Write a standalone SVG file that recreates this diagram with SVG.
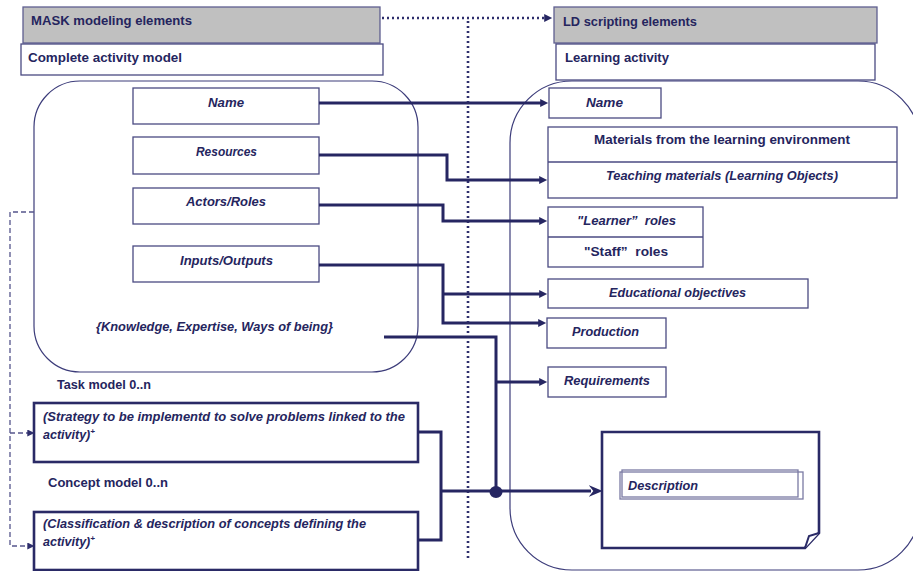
<svg xmlns="http://www.w3.org/2000/svg" width="913" height="571" viewBox="0 0 913 571">
  <style>
    text { font-family: "Liberation Sans", Arial, sans-serif; font-weight: bold; font-size: 12.5px; fill: #25255e; }
    .it { font-style: italic; }
    .mid { text-anchor: middle; }
    .pre { white-space: pre; }
    .head { fill: #c0c0c0; stroke: #5f5f90; stroke-width: 1.3; }
    .box { fill: #ffffff; stroke: #4a4a82; stroke-width: 1.3; }
    .thick { fill: #ffffff; stroke: #2a2a66; stroke-width: 2.6; }
    .container { fill: none; stroke: #3c3c7a; stroke-width: 1.2; }
    .wire { fill: none; stroke: #262662; stroke-width: 3; }
    .dash { fill: none; stroke: #55558c; stroke-width: 1.3; stroke-dasharray: 5 3; }
    .dot { fill: none; stroke: #2e2e6c; stroke-width: 2.6; stroke-dasharray: 2 3; }
  </style>
  <defs>
    <marker id="tri" viewBox="0 0 10 10" refX="1" refY="5" markerWidth="9" markerHeight="8" markerUnits="userSpaceOnUse" orient="auto">
      <path d="M0,0 L10,5 L0,10 z" fill="#262662"/>
    </marker>
    <marker id="barb" viewBox="0 0 12 10" refX="2" refY="5" markerWidth="14" markerHeight="12" markerUnits="userSpaceOnUse" orient="auto">
      <path d="M0,0 L12,5 L0,10 L4,5 z" fill="#262662"/>
    </marker>
    <marker id="small" viewBox="0 0 10 10" refX="1" refY="5" markerWidth="7" markerHeight="7" markerUnits="userSpaceOnUse" orient="auto">
      <path d="M0,0 L10,5 L0,10 z" fill="#2e2e6c"/>
    </marker>
  </defs>

  <!-- large rounded frames -->
  <rect id="activity-frame" class="container" x="34" y="81" width="384" height="291" rx="46" ry="46"/>
  <rect id="learning-frame" class="container" x="510" y="81" width="410" height="489" rx="62" ry="62"/>

  <!-- column headers -->
  <g id="mask-header">
    <rect class="head" x="23" y="7" width="357" height="36"/>
    <text x="31" y="25" textLength="161" lengthAdjust="spacingAndGlyphs">MASK modeling elements</text>
  </g>
  <g id="complete-model">
    <rect class="box" x="21" y="44" width="362" height="31"/>
    <text x="28" y="62" textLength="154" lengthAdjust="spacingAndGlyphs">Complete activity model</text>
  </g>
  <g id="ld-header">
    <rect class="head" x="554" y="7" width="323" height="36"/>
    <text x="563" y="26" textLength="134" lengthAdjust="spacingAndGlyphs">LD scripting elements</text>
  </g>
  <g id="learning-activity">
    <rect class="box" x="556" y="44" width="319" height="36"/>
    <text x="565" y="62" textLength="104" lengthAdjust="spacingAndGlyphs">Learning activity</text>
  </g>

  <!-- separators between the two columns -->
  <g id="separators">
    <path class="dot" d="M382,18 H545" marker-end="url(#tri)"/>
    <path class="dot" d="M468,21 V560"/>
  </g>

  <!-- activity model elements -->
  <g id="name-left">
    <rect class="box" x="133" y="88" width="186" height="36"/>
    <text class="it mid" x="226" y="107" textLength="36" lengthAdjust="spacingAndGlyphs">Name</text>
  </g>
  <g id="resources">
    <rect class="box" x="133" y="137" width="186" height="37"/>
    <text class="it mid" x="226.5" y="156" textLength="61" lengthAdjust="spacingAndGlyphs">Resources</text>
  </g>
  <g id="actors-roles">
    <rect class="box" x="133" y="188" width="186" height="36"/>
    <text class="it mid" x="226" y="206" textLength="80" lengthAdjust="spacingAndGlyphs">Actors/Roles</text>
  </g>
  <g id="inputs-outputs">
    <rect class="box" x="133" y="246" width="186" height="36"/>
    <text class="it mid" x="226.5" y="265" textLength="93" lengthAdjust="spacingAndGlyphs">Inputs/Outputs</text>
  </g>
  <g id="knowledge">
    <text class="it mid" x="214.5" y="331" textLength="237" lengthAdjust="spacingAndGlyphs">{Knowledge, Expertise, Ways of being}</text>
  </g>

  <!-- task and concept models -->
  <g id="task-model">
    <text x="57" y="389" textLength="94" lengthAdjust="spacingAndGlyphs">Task model 0..n</text>
    <rect class="thick" x="34" y="403" width="384" height="59"/>
    <text class="it" x="43" y="421" textLength="362" lengthAdjust="spacingAndGlyphs">(Strategy to be implementd to solve problems linked to the</text>
    <text class="it" x="43" y="439">activity)<tspan font-size="8" dy="-5">+</tspan></text>
  </g>
  <g id="concept-model">
    <text x="48" y="487" textLength="120" lengthAdjust="spacingAndGlyphs">Concept model 0..n</text>
    <rect class="thick" x="34" y="512" width="384" height="58"/>
    <text class="it" x="43" y="528" textLength="323" lengthAdjust="spacingAndGlyphs">(Classification &amp; description of concepts defining  the</text>
    <text class="it" x="43" y="546">activity)<tspan font-size="8" dy="-5">+</tspan></text>
  </g>

  <!-- learning design elements -->
  <g id="name-right">
    <rect class="box" x="549" y="88" width="112" height="30"/>
    <text class="it mid" x="604.5" y="107" textLength="37" lengthAdjust="spacingAndGlyphs">Name</text>
  </g>
  <g id="materials">
    <rect class="box" x="548" y="127" width="349" height="71"/>
    <line x1="548" y1="162" x2="897" y2="162" stroke="#4a4a82" stroke-width="1.3"/>
    <text class="mid" x="722" y="144" textLength="256" lengthAdjust="spacingAndGlyphs">Materials from the learning environment</text>
    <text class="it mid" x="722" y="180" textLength="232" lengthAdjust="spacingAndGlyphs">Teaching materials (Learning Objects)</text>
  </g>
  <g id="roles">
    <rect class="box" x="548" y="207" width="155" height="60"/>
    <line x1="548" y1="237" x2="703" y2="237" stroke="#4a4a82" stroke-width="1.3"/>
    <text class="it mid pre" x="626.5" y="225" textLength="99" lengthAdjust="spacingAndGlyphs">"Learner”  roles</text>
    <text class="mid pre" x="626" y="256" textLength="84" lengthAdjust="spacingAndGlyphs">"Staff”  roles</text>
  </g>
  <g id="objectives">
    <rect class="box" x="548" y="279" width="260" height="29"/>
    <text class="it mid" x="677.5" y="297" textLength="137" lengthAdjust="spacingAndGlyphs">Educational objectives</text>
  </g>
  <g id="production">
    <rect class="box" x="547" y="318" width="119" height="30"/>
    <text class="it mid" x="605.5" y="336" textLength="67" lengthAdjust="spacingAndGlyphs">Production</text>
  </g>
  <g id="requirements">
    <rect class="box" x="548" y="367" width="118" height="30"/>
    <text class="it mid" x="607" y="385" textLength="86" lengthAdjust="spacingAndGlyphs">Requirements</text>
  </g>
  <g id="description">
    <path class="thick" d="M602,432 H819 V533 L805,548 H602 Z"/>
    <path d="M819,533 L809,536 L805,548" fill="#ffffff" stroke="#2a2a66" stroke-width="2"/>
    <rect x="620" y="472" width="183" height="27" fill="none" stroke="#7a7aa4" stroke-width="1.3"/>
    <rect x="622" y="470" width="176" height="27" fill="none" stroke="#7a7aa4" stroke-width="1.3"/>
    <text class="it" x="628" y="490" textLength="70" lengthAdjust="spacingAndGlyphs">Description</text>
  </g>

  <!-- connectors -->
  <g id="connectors">
    <path class="wire" d="M319,103 H541" marker-end="url(#tri)"/>
    <path class="wire" d="M319,155 H447 V180 H540" marker-end="url(#tri)"/>
    <path class="wire" d="M319,205 H443 V221 H540" marker-end="url(#tri)"/>
    <path class="wire" d="M319,265 H443 V323 H539" marker-end="url(#tri)"/>
    <path class="wire" d="M443,294 H540" marker-end="url(#tri)"/>
    <path class="wire" d="M384,337 H496 V491"/>
    <path class="wire" d="M496,382 H540" marker-end="url(#tri)"/>
    <path class="wire" d="M418,432 H441 V540 H418"/>
    <path class="wire" d="M441,491 H591" marker-end="url(#barb)"/>
    <ellipse cx="496" cy="492" rx="6.5" ry="6" fill="#262662"/>
    <path class="dash" d="M34,212 H10 V546 H28" marker-end="url(#small)"/>
    <path class="dash" d="M10,433 H28" marker-end="url(#small)"/>
  </g>
</svg>
